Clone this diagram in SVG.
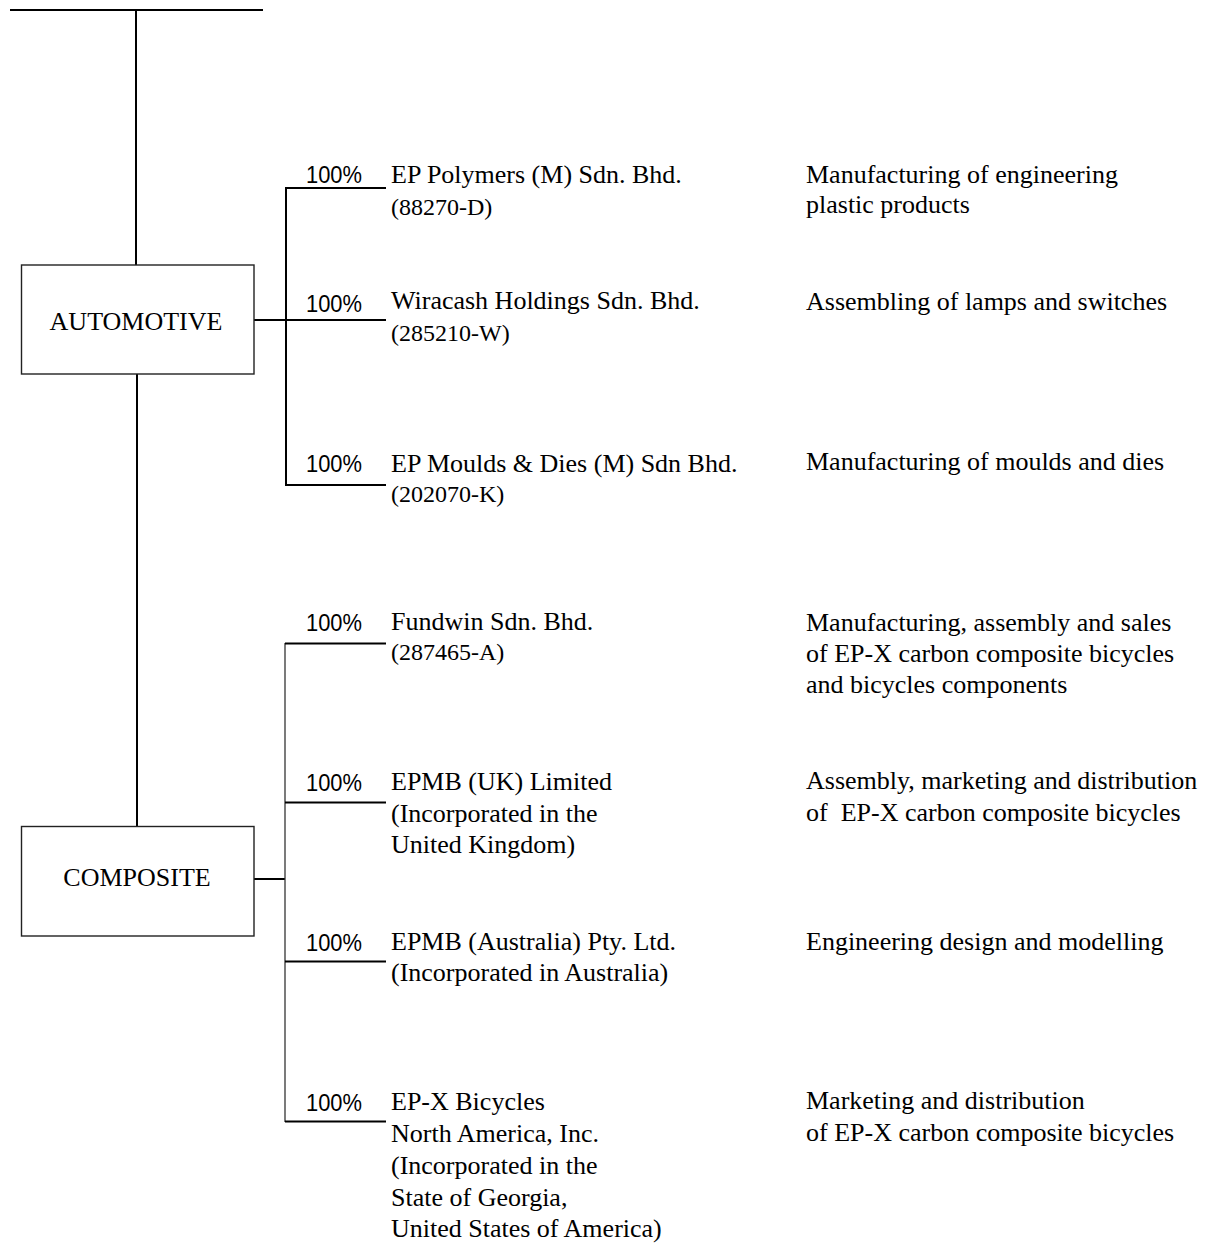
<svg xmlns="http://www.w3.org/2000/svg" width="1212" height="1243" viewBox="0 0 1212 1243">
<style>
.bg{fill:#fff}
.ln{stroke:#000;stroke-width:2;fill:none}
.thin{stroke:#333;stroke-width:1.3;fill:none}
.box{fill:#fff;stroke:#222;stroke-width:1.4}
.t{font-family:"Liberation Serif","Times New Roman",serif;font-size:26px;fill:#000}
.s{font-family:"Liberation Serif","Times New Roman",serif;font-size:24px;fill:#000}
.p{font-family:"Liberation Sans",Arial,sans-serif;font-size:24px;fill:#000}
.c{text-anchor:middle}
</style>
<rect class="bg" x="0" y="0" width="1212" height="1243"/>
<g id="connectors">
<line class="ln" x1="10" y1="10" x2="263" y2="10"/>
<line class="ln" x1="136" y1="10" x2="136" y2="265"/>
<line class="ln" x1="137" y1="374" x2="137" y2="827"/>
<line class="ln" x1="254" y1="320" x2="386" y2="320"/>
<line class="ln" x1="286" y1="187" x2="286" y2="485"/>
<line class="ln" x1="285" y1="188" x2="386" y2="188"/>
<line class="ln" x1="285" y1="485" x2="386" y2="485"/>
<line class="ln" x1="251" y1="879" x2="285" y2="879"/>
<line class="thin" x1="285" y1="643" x2="285" y2="1122"/>
<line class="ln" x1="285" y1="643.5" x2="386" y2="643.5"/>
<line class="ln" x1="285" y1="802.5" x2="386" y2="802.5"/>
<line class="ln" x1="285" y1="961.5" x2="386" y2="961.5"/>
<line class="ln" x1="285" y1="1121.5" x2="386" y2="1121.5"/>
</g>
<g id="automotive">
<rect class="box" x="21.5" y="265" width="232.5" height="109"/>
<text class="t c" x="136" y="330">AUTOMOTIVE</text>
</g>
<g id="composite">
<rect class="box" x="21.5" y="826.5" width="232.5" height="109.5"/>
<text class="t c" x="137" y="886">COMPOSITE</text>
</g>
<g id="ep-polymers">
<text class="p" x="306" y="183" textLength="56" lengthAdjust="spacingAndGlyphs">100%</text>
<text class="t" x="391" y="183">EP Polymers (M) Sdn. Bhd.</text>
<text class="s" x="391" y="215">(88270-D)</text>
<text class="t" x="806" y="182.5">Manufacturing of engineering</text>
<text class="t" x="806" y="213">plastic products</text>
</g>
<g id="wiracash">
<text class="p" x="306" y="312" textLength="56" lengthAdjust="spacingAndGlyphs">100%</text>
<text class="t" x="391" y="309">Wiracash Holdings Sdn. Bhd.</text>
<text class="s" x="391" y="341">(285210-W)</text>
<text class="t" x="806" y="310">Assembling of lamps and switches</text>
</g>
<g id="ep-moulds">
<text class="p" x="306" y="472" textLength="56" lengthAdjust="spacingAndGlyphs">100%</text>
<text class="t" x="391" y="472">EP Moulds &amp; Dies (M) Sdn Bhd.</text>
<text class="s" x="391" y="501.5">(202070-K)</text>
<text class="t" x="806" y="470">Manufacturing of moulds and dies</text>
</g>
<g id="fundwin">
<text class="p" x="306" y="631" textLength="56" lengthAdjust="spacingAndGlyphs">100%</text>
<text class="t" x="391" y="630">Fundwin Sdn. Bhd.</text>
<text class="s" x="391" y="660">(287465-A)</text>
<text class="t" x="806" y="630.7">Manufacturing, assembly and sales</text>
<text class="t" x="806" y="661.7">of EP-X carbon composite bicycles</text>
<text class="t" x="806" y="692.7">and bicycles components</text>
</g>
<g id="epmb-uk">
<text class="p" x="306" y="791" textLength="56" lengthAdjust="spacingAndGlyphs">100%</text>
<text class="t" x="391" y="790">EPMB (UK) Limited</text>
<text class="t" x="391" y="822">(Incorporated in the</text>
<text class="t" x="391" y="853">United Kingdom)</text>
<text class="t" x="806" y="789.3">Assembly, marketing and distribution</text>
<text class="t" x="806" y="820.7" xml:space="preserve">of  EP-X carbon composite bicycles</text>
</g>
<g id="epmb-australia">
<text class="p" x="306" y="951" textLength="56" lengthAdjust="spacingAndGlyphs">100%</text>
<text class="t" x="391" y="949.5">EPMB (Australia) Pty. Ltd.</text>
<text class="t" x="391" y="980.7">(Incorporated in Australia)</text>
<text class="t" x="806" y="950">Engineering design and modelling</text>
</g>
<g id="epx-north-america">
<text class="p" x="306" y="1110.5" textLength="56" lengthAdjust="spacingAndGlyphs">100%</text>
<text class="t" x="391" y="1109.5">EP-X Bicycles</text>
<text class="t" x="391" y="1141.5">North America, Inc.</text>
<text class="t" x="391" y="1174">(Incorporated in the</text>
<text class="t" x="391" y="1206">State of Georgia,</text>
<text class="t" x="391" y="1237">United States of America)</text>
<text class="t" x="806" y="1109.3">Marketing and distribution</text>
<text class="t" x="806" y="1140.7">of EP-X carbon composite bicycles</text>
</g>
</svg>
